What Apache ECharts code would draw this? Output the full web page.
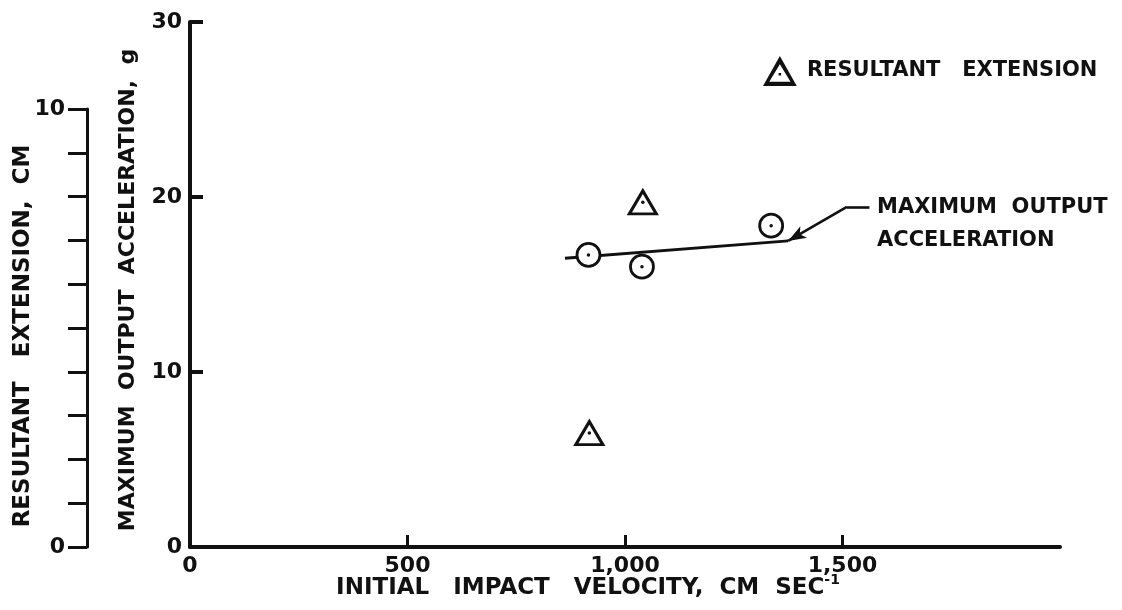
<!DOCTYPE html>
<html><head><meta charset="utf-8">
<script src="https://cdn.jsdelivr.net/npm/echarts@6/dist/echarts.min.js"></script>
<style>html,body{margin:0;padding:0;background:#fff;}#c{width:1122px;height:610px;}</style>
</head><body><div id="c"></div>
<script>
// ---- data ----
const velocity = [916, 1039, 1336];          // CM SEC^-1 (circles)
const acceleration = [16.69, 16.02, 18.36];  // g
const extVelocity = [918, 1041];             // CM SEC^-1 (triangles)
const extension = [2.6, 7.87];               // CM
const fitVelocity = [862, 1375];
const fitAcceleration = [16.5, 17.49];
const leaderVelocity = [1375, 1510, 1562];
const leaderAcceleration = [17.49, 19.43, 19.43];
// ---- tick labels ----
const velocityTicks = [500, 1000, 1500];
const velocityLabelValues = [0, 500, 1000, 1500];
const velocityLabels = ['0', '500', '1,000', '1,500'];
const extensionLabelValues = [0, 10];

const INK = '#111';
const FONT = 'DejaVu Sans';
const legendName = 'RESULTANT   EXTENSION';
const triIcon = 'path://M13.5,0 L27,24 L0,24 Z M13.5,6.5 L5,20.6 L22,20.6 Z M12.5,13.5 L14.5,13.5 L14.5,15.5 L12.5,15.5 Z';

const chart = echarts.init(document.getElementById('c'));
const lab = {color: INK, fontFamily: FONT, fontWeight: 'bold', fontSize: 22};

chart.setOption({
  animation: false,
  backgroundColor: '#fff',
  textStyle: {fontFamily: FONT, color: INK},
  grid: [
    {left: 190, top: 22, width: 870, height: 525},
    {left: 190, top: 109, width: 870, height: 438}
  ],
  legend: {
    left: 758, top: 51, itemWidth: 34, itemHeight: 30, selectedMode: false,
    data: [{name: legendName, icon: triIcon, itemStyle: {color: INK, borderWidth: 0, opacity: 1}}],
    textStyle: {color: INK, fontFamily: FONT, fontWeight: 'bold', fontSize: 21, padding: [0, 0, 0, 5]}
  },
  xAxis: [
    {
      type: 'value', gridIndex: 0, min: 0, max: 2000,
      axisLine: {show: true, onZero: false, lineStyle: {color: INK, width: 4}},
      axisTick: {show: true, inside: true, length: 12, customValues: velocityTicks, lineStyle: {color: INK, width: 3}},
      axisLabel: Object.assign({margin: 8, customValues: velocityLabelValues,
        formatter: v => velocityLabels[velocityLabelValues.indexOf(v)]}, lab),
      splitLine: {show: false}
    },
    {type: 'value', gridIndex: 1, min: 0, max: 2000, show: false}
  ],
  yAxis: [
    {
      type: 'value', gridIndex: 0, min: 0, max: 30, interval: 10,
      axisLine: {show: true, onZero: false, lineStyle: {color: INK, width: 4}},
      axisTick: {show: true, inside: true, length: 13, lineStyle: {color: INK, width: 4}},
      axisLabel: Object.assign({margin: 8}, lab),
      splitLine: {show: false}
    },
    {
      type: 'value', gridIndex: 1, min: 0, max: 10, interval: 1, position: 'left', offset: 103,
      axisLine: {show: true, onZero: false, lineStyle: {color: INK, width: 3}},
      axisTick: {show: true, inside: false, length: 19, lineStyle: {color: INK, width: 3}},
      axisLabel: Object.assign({margin: 22,
        formatter: v => extensionLabelValues.indexOf(v) >= 0 ? String(v) : ''}, lab),
      splitLine: {show: false}
    }
  ],
  series: [
    {
      type: 'line', xAxisIndex: 0, yAxisIndex: 0, silent: true, z: 2,
      data: fitVelocity.map((v, i) => [v, fitAcceleration[i]]),
      symbol: 'none', lineStyle: {color: INK, width: 2.8},
      markLine: {
        silent: true, symbol: ['none', 'none'], label: {show: false},
        lineStyle: {color: INK, width: 2.6, type: 'solid'},
        data: [
          [{coord: [leaderVelocity[0], leaderAcceleration[0]], symbol: 'arrow', symbolSize: [10, 18]},
           {coord: [leaderVelocity[1], leaderAcceleration[1]], symbol: 'none'}],
          [{coord: [leaderVelocity[1], leaderAcceleration[1]], symbol: 'none'},
           {coord: [leaderVelocity[2], leaderAcceleration[2]], symbol: 'none'}]
        ]
      }
    },
    {
      name: 'MAXIMUM OUTPUT ACCELERATION', type: 'scatter', xAxisIndex: 0, yAxisIndex: 0, z: 3,
      data: velocity.map((v, i) => [v, acceleration[i]]),
      symbol: 'circle', symbolSize: 23,
      itemStyle: {color: '#fff', borderColor: INK, borderWidth: 2.8, opacity: 1}
    },
    {
      type: 'scatter', xAxisIndex: 0, yAxisIndex: 0, z: 4, silent: true,
      data: velocity.map((v, i) => [v, acceleration[i]]),
      symbol: 'circle', symbolSize: 3.5, itemStyle: {color: INK, opacity: 1}
    },
    {
      name: legendName, type: 'scatter', xAxisIndex: 1, yAxisIndex: 1, z: 3,
      data: extVelocity.map((v, i) => [v, extension[i]]),
      symbol: 'triangle', symbolSize: [27, 23],
      itemStyle: {color: '#fff', borderColor: INK, borderWidth: 3, opacity: 1}
    },
    {
      type: 'scatter', xAxisIndex: 1, yAxisIndex: 1, z: 4, silent: true,
      data: extVelocity.map((v, i) => [v, extension[i]]),
      symbol: 'circle', symbolSize: 3.5, itemStyle: {color: INK, opacity: 1}
    }
  ],
  graphic: [
    {type: 'text', x: 23, y: 336, rotation: Math.PI / 2, silent: true,
     style: {text: 'RESULTANT   EXTENSION,  CM', fill: INK, font: 'bold 23px "DejaVu Sans"',
             align: 'center', verticalAlign: 'middle', textAlign: 'center', textVerticalAlign: 'middle'}},
    {type: 'text', x: 128, y: 290, rotation: Math.PI / 2, silent: true,
     style: {text: 'MAXIMUM  OUTPUT  ACCELERATION,  g', fill: INK, font: 'bold 22px "DejaVu Sans"',
             align: 'center', verticalAlign: 'middle', textAlign: 'center', textVerticalAlign: 'middle'}},
    {type: 'text', x: 588, y: 588, silent: true,
     style: {text: '{m|INITIAL   IMPACT   VELOCITY,  CM  SEC}{s|-1}', fill: INK,
             align: 'center', verticalAlign: 'middle', textAlign: 'center', textVerticalAlign: 'middle',
             rich: {
               m: {fontFamily: FONT, fontWeight: 'bold', fontSize: 23, lineHeight: 30, color: INK},
               s: {fontFamily: FONT, fontWeight: 'bold', fontSize: 14, lineHeight: 14, verticalAlign: 'top', color: INK}
             }}},
    {type: 'text', x: 877, y: 208, silent: true,
     style: {text: 'MAXIMUM  OUTPUT', fill: INK, font: 'bold 21px "DejaVu Sans"',
             align: 'left', verticalAlign: 'middle', textAlign: 'left', textVerticalAlign: 'middle'}},
    {type: 'text', x: 877, y: 241, silent: true,
     style: {text: 'ACCELERATION', fill: INK, font: 'bold 21px "DejaVu Sans"',
             align: 'left', verticalAlign: 'middle', textAlign: 'left', textVerticalAlign: 'middle'}}
  ]
});
</script>
</body></html>
